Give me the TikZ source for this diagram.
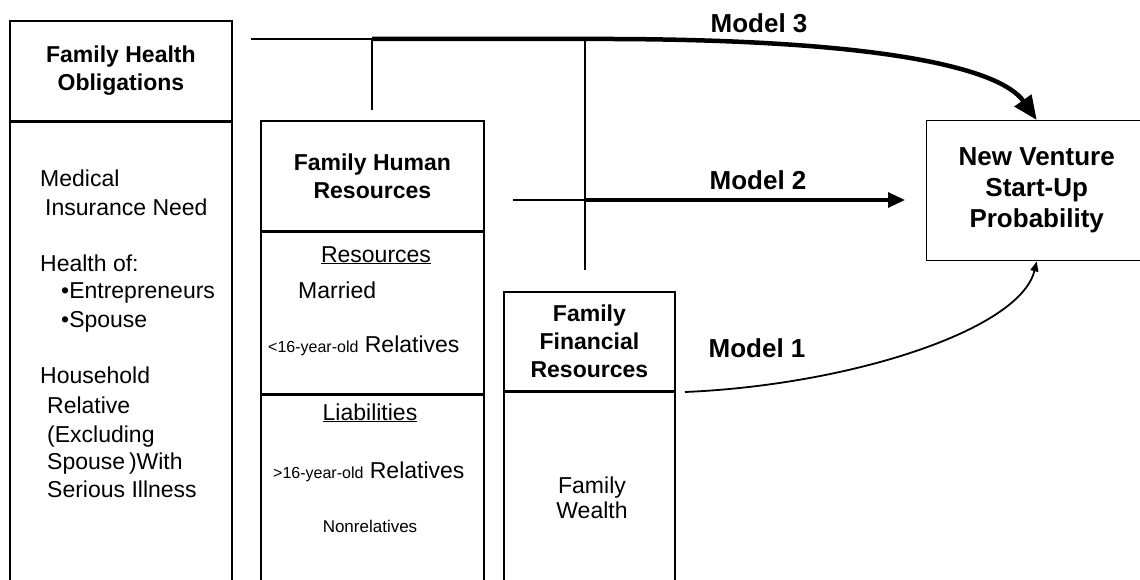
\documentclass[tikz,border=0pt]{standalone}
\usepackage{fontspec}
\setmainfont{Liberation Sans}
\usetikzlibrary{arrows.meta,positioning}

\begin{document}
\begin{tikzpicture}[x=1pt,y=-1pt,node distance=0pt]

\tikzstyle{box}=[draw=black,line width=1.4pt,inner sep=0pt,anchor=north west]
\tikzstyle{head}=[box,line width=1.8pt,align=center,font=\fontsize{23}{28}\selectfont\bfseries]
\tikzstyle{txt}=[anchor=base west,inner sep=0pt,font=\fontsize{23}{28}\selectfont]
\tikzstyle{ctxt}=[txt,anchor=base]
\tikzstyle{small}=[ctxt,font=\fontsize{17}{20}\selectfont]
\tikzstyle{model}=[anchor=base,inner sep=0pt,font=\fontsize{26}{30}\selectfont\bfseries]
\tikzstyle{link}=[line width=1.4pt]

\useasboundingbox (0,0) rectangle (1140,580);

%health obligations
\node [head,minimum width=222pt,minimum height=100pt] (healthhead) at (9,20) {Family Health\\Obligations};
\node [box,minimum width=222pt,minimum height=470pt,below=of healthhead] (healthbody) {};
\node [txt] (medical) at (40,187) {Medical};
\node [txt] (insurance) at (45,215) {Insurance Need};
\node [txt] (healthof) at (40,271) {Health of:};
\node [txt] (entre) at (61,298) {\textbullet Entrepreneurs};
\node [txt] (spouse) at (61,327) {\textbullet Spouse};
\node [txt] (household) at (40,383) {Household};
\node [txt] (relative) at (47,413) {Relative};
\node [txt] (excluding) at (47,442) {(Excluding};
\node [txt] (with) at (47,469) {Spouse\,)With};
\node [txt] (illness) at (47,497) {Serious Illness};

%human resources
\node [head,minimum width=223pt,minimum height=110pt] (humanhead) at (260,120) {Family Human\\Resources};
\node [box,minimum width=223pt,minimum height=161pt,below=of humanhead] (humanres) {};
\node [box,minimum width=223pt,minimum height=200pt,below=of humanres] (humanliab) {};
\node [ctxt] (restitle) at (376,262) {\underline{Resources}};
\node [txt] (married) at (298,298) {Married};
\node [txt] (younger) at (268,352) {{\fontsize{16}{20}\selectfont <16-year-old} Relatives};
\node [ctxt] (liabtitle) at (370,420) {\underline{Liabilities}};
\node [txt] (older) at (273,478) {{\fontsize{16}{20}\selectfont >16-year-old} Relatives};
\node [small] (nonrel) at (370,532) {Nonrelatives};

%financial resources
\node [head,minimum width=171pt,minimum height=99pt] (financehead) at (503,291) {Family\\Financial\\Resources};
\node [box,minimum width=171pt,minimum height=200pt,below=of financehead] (financebody) {};
\node [ctxt] (family) at (592,493) {Family};
\node [ctxt] (wealth) at (592,518) {Wealth};

%outcome
\node [head,line width=1.4pt,minimum width=220pt,minimum height=140pt,font=\fontsize{26}{31}\selectfont\bfseries] (venture) at (926,120) {New Venture\\Start-Up\\Probability};

%models
\coordinate (m3start) at (251,39);
\coordinate (m3join) at (372,39);
\coordinate (m3split) at (585,39);
\coordinate (humantick) at (372,110);
\coordinate (financetick) at (585,270);
\coordinate (m2start) at (513,200);
\coordinate (m2join) at (585,200);
\coordinate (m2end) at (905,200);
\coordinate (m1start) at (685,392);

\draw [link] (m3start) -- (m3join) -- (humantick);
\draw [link] (m3split) -- (financetick);
\draw [link] (m2start) -- (m2join);
\draw [line width=4.5pt,-{Triangle[length=24pt,width=20pt]}] (m3join) -- (m3split)
      .. controls (880,38) and (1000,68) .. (venture.north);
\draw [line width=3.2pt,-{Triangle[length=17pt,width=15pt]}] (m2join) -- (m2end);
\draw [line width=1.8pt,-{Triangle[length=10pt,width=8pt]}] (m1start)
      .. controls (850,385) and (1020,330) .. (venture.south);

\node [model] (model3) at (759,33) {Model 3};
\node [model] (model2) at (758,190) {Model 2};
\node [model] (model1) at (757,357) {Model 1};

\end{tikzpicture}
\end{document}
